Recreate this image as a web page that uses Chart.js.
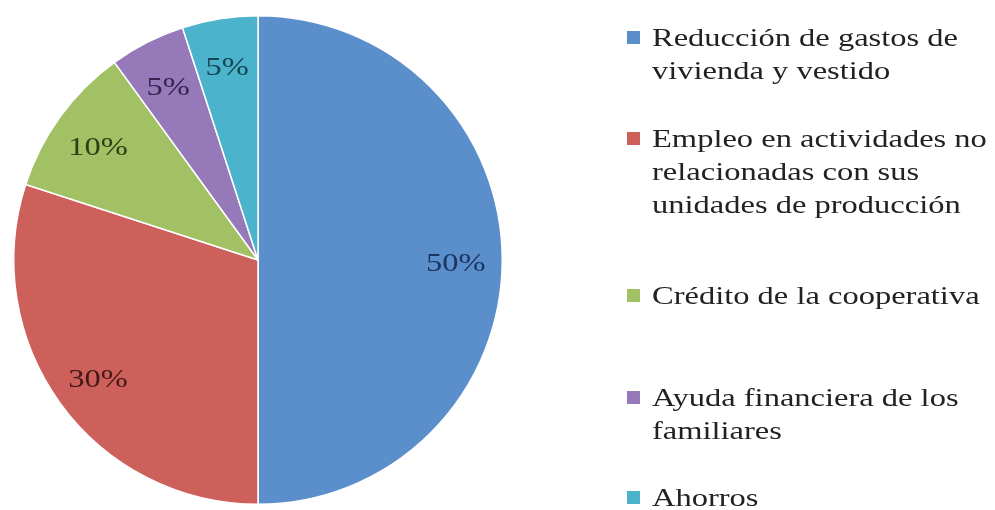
<!DOCTYPE html>
<html>
<head>
<meta charset="utf-8">
<script src="https://cdn.jsdelivr.net/npm/chart.js@4.4.1/dist/chart.umd.min.js"></script>
<style>
  html, body { margin: 0; padding: 0; background: #fff; }
  #wrap { position: relative; width: 995px; height: 510px; overflow: hidden; }
  #pie { position: absolute; left: 0; top: 0; width: 516px; height: 510px; }
  #legend { position: absolute; left: 0; top: 0; width: 995px; height: 510px; font-family: "Liberation Serif", "Times New Roman", serif; font-size: 26px; color: #222; }
  .sw { position: absolute; width: 13px; height: 13px; }
  .ln { position: absolute; white-space: nowrap; transform: scaleX(1.25); transform-origin: 0 0; line-height: 1; }
</style>
</head>
<body>
<div id="wrap">
  <div id="pie"><canvas id="c"></canvas></div>
  <div id="legend"></div>
</div>
<script>
// Categories (legend lines as wrapped)
const categories = [
  ["Reducción de gastos de", "vivienda y vestido"],
  ["Empleo en actividades no", "relacionadas con sus", "unidades de producción"],
  ["Crédito de la cooperativa"],
  ["Ayuda financiera de los", "familiares"],
  ["Ahorros"]
];
// Share of each source, in percent
const shares = [50, 30, 10, 5, 5];
const sliceColors = ["#5B8FCC", "#CE605C", "#A2C064", "#9579B9", "#4BB3CB"];
const labelColors = ["#1B3660", "#451816", "#2F3E16", "#36244E", "#164452"];

// Legend layout: baseline of first line of each entry
const legendBaselines = [48, 149, 306, 408, 508];
const lineGap = 33;

const legend = document.getElementById('legend');
categories.forEach((lines, i) => {
  const sw = document.createElement('div');
  sw.className = 'sw';
  sw.style.background = sliceColors[i];
  sw.style.left = '627px';
  sw.style.top = (legendBaselines[i] - 17) + 'px';
  legend.appendChild(sw);
  lines.forEach((t, j) => {
    const d = document.createElement('div');
    d.className = 'ln';
    d.textContent = t;
    d.style.left = '652px';
    // line-height 1 box: baseline ~0.89em below top for Liberation Serif
    d.style.top = (legendBaselines[i] + j * lineGap - 23) + 'px';
    legend.appendChild(d);
  });
});

// Percentage labels drawn inside each slice
const sliceLabels = {
  id: 'sliceLabels',
  afterDatasetsDraw(chart) {
    const ctx = chart.ctx;
    const meta = chart.getDatasetMeta(0);
    meta.data.forEach((arc, i) => {
      const p = arc.getProps(['x', 'y', 'startAngle', 'endAngle', 'outerRadius'], true);
      const mid = (p.startAngle + p.endAngle) / 2;
      const r = p.outerRadius * 0.81;
      const x = p.x + Math.cos(mid) * r;
      const y = p.y + Math.sin(mid) * r + 4;
      ctx.save();
      ctx.translate(x, y);
      ctx.scale(1.25, 1);
      ctx.font = '26px "Liberation Serif", "Times New Roman", serif';
      ctx.fillStyle = labelColors[i];
      ctx.textAlign = 'center';
      ctx.textBaseline = 'middle';
      ctx.fillText(shares[i] + '%', 0, 0);
      ctx.restore();
    });
  }
};

new Chart(document.getElementById('c'), {
  type: 'pie',
  data: {
    labels: categories.map(l => l.join(' ')),
    datasets: [{
      data: shares,
      backgroundColor: sliceColors,
      borderColor: '#ffffff',
      borderWidth: 1.5
    }]
  },
  options: {
    responsive: true,
    maintainAspectRatio: false,
    animation: false,
    layout: { padding: { top: 15, bottom: 5, left: 12, right: 12 } },
    plugins: {
      legend: { display: false },
      tooltip: { enabled: false }
    }
  },
  plugins: [sliceLabels]
});
</script>
</body>
</html>
